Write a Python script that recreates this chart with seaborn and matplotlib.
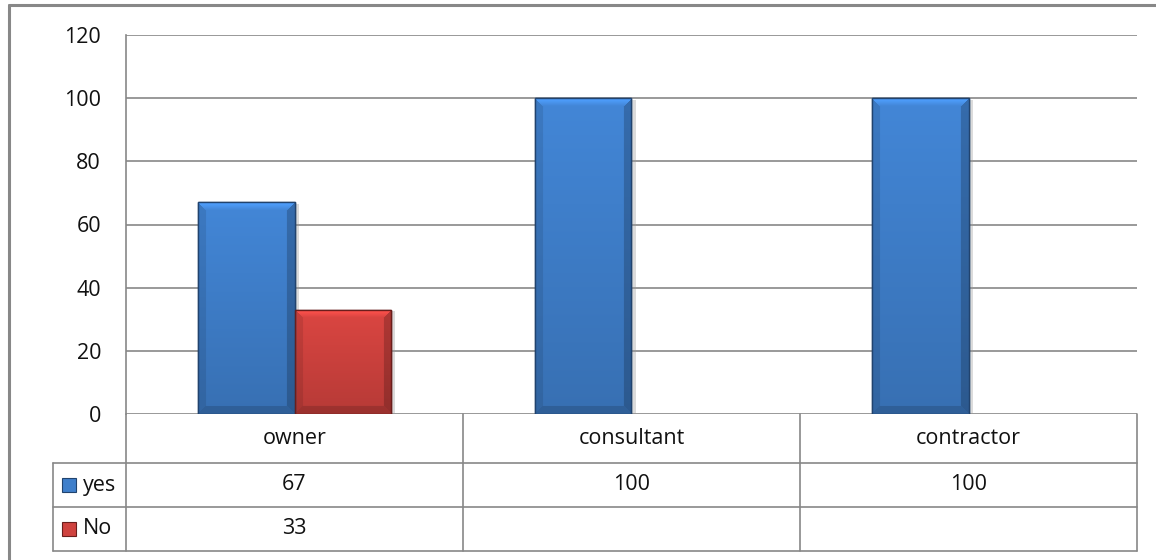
import numpy as np
import pandas as pd
import seaborn as sns
import matplotlib.pyplot as plt
import matplotlib.patheffects as pe
import matplotlib.colors as mc
from matplotlib.lines import Line2D
from matplotlib.patches import Rectangle

# datos
categories = ["owner", "consultant", "contractor"]
yes_vals = [67, 100, 100]
no_vals = [33, np.nan, np.nan]
series = ["yes", "No"]
yticks = [0, 20, 40, 60, 80, 100, 120]

blue = "#3F7FCB"
red = "#CF423E"
edge = {"yes": "#21436E", "No": "#6A1E1C"}
grid_c = "#878787"
txt_c = "#111111"
fs = 15.5

sns.set_style("white")
plt.rcParams["font.family"] = ["Open Sans", "DejaVu Sans"]

df = pd.DataFrame({
    "cat": categories * 2,
    "serie": ["yes"] * 3 + ["No"] * 3,
    "val": yes_vals + no_vals,
})

W, H = 1156, 560
fig = plt.figure(figsize=(W / 100, H / 100), dpi=100)

# ejes principales (pixeles de la referencia)
ax = fig.add_axes([126 / W, 1 - 414 / H, (1137 - 126) / W, (414 - 35) / H])
sns.barplot(data=df, x="cat", y="val", hue="serie", hue_order=series,
            palette=[blue, red], width=0.573, gap=0, ax=ax, legend=False,
            saturation=1, zorder=3)
ax.set_xlim(-0.5, 2.5)
ax.set_ylim(0, 120)
ax.set_yticks(yticks)
ax.set_xticks([])
ax.set_xlabel("")
ax.set_ylabel("")
ax.tick_params(axis="y", length=0, pad=18, labelsize=fs, labelcolor=txt_c)
ax.grid(axis="y", color=grid_c, lw=1.2, zorder=0)
for s in ["top", "right", "bottom"]:
    ax.spines[s].set_visible(False)
ax.spines["left"].set_color(grid_c)
ax.spines["left"].set_linewidth(1.2)


def bevel(ax, bar, rgb, ec):
    x0, y0 = bar.get_x(), bar.get_y()
    w, h = bar.get_width(), bar.get_height()
    p0 = ax.transData.transform((x0, y0))
    p1 = ax.transData.transform((x0 + w, y0 + h))
    nx = max(int(abs(p1[0] - p0[0])), 2)
    ny = max(int(abs(p1[1] - p0[1])), 2)
    yy, xx = np.mgrid[0:ny, 0:nx]
    f = 1.06 - 0.18 * yy / ny
    b = 8
    top = (yy < b) & (yy <= xx) & (yy <= nx - 1 - xx)
    bot = (ny - 1 - yy < b) & (ny - 1 - yy <= xx) & (ny - 1 - yy <= nx - 1 - xx)
    left = (xx < b) & ~top & ~bot & (xx <= nx - 1 - xx)
    right = (nx - 1 - xx < b) & ~top & ~bot
    f = np.where(top, 1.28 - 0.03 * yy, f)
    f = np.where(left, f * 0.9, f)
    f = np.where(right, f * 0.8, f)
    f = np.where(bot, f * 0.85, f)
    img = np.clip(np.array(rgb)[None, None, :] * f[..., None], 0, 1)
    im = ax.imshow(img, extent=(x0, x0 + w, y0, y0 + h), aspect="auto",
                   interpolation="bilinear", zorder=3.5)
    im.set_clip_path(bar)
    bar.set_edgecolor(ec)
    bar.set_linewidth(1.0)
    bar.set_path_effects([pe.SimplePatchShadow(offset=(3, -1), shadow_rgbFace="#999999", alpha=0.35),
                          pe.Normal()])


for bar in list(ax.patches):
    if np.isnan(bar.get_height()) or bar.get_height() == 0:
        continue
    fc = mc.to_hex(bar.get_facecolor())
    name = "yes" if fc.lower() == blue.lower() else "No"
    bevel(ax, bar, mc.to_rgb(blue if name == "yes" else red), edge[name])
    # contorno por encima de la imagen
    ax.add_patch(Rectangle((bar.get_x(), bar.get_y()), bar.get_width(), bar.get_height(),
                           fill=False, ec=edge[name], lw=1.0, zorder=4))
ax.set_xlim(-0.5, 2.5)
ax.set_ylim(0, 120)

# tabla de datos debajo
cat_px = (1137 - 126) / 3
x_left = -0.5 - 73 / cat_px
tax = fig.add_axes([53 / W, 1 - 551 / H, (1137 - 53) / W, (551 - 414) / H])
tax.set_xlim(x_left, 2.5)
tax.set_ylim(551, 414)
tax.axis("off")

lc = dict(color=grid_c, lw=1.2, clip_on=False)
for xb in [-0.5, 0.5, 1.5, 2.5]:
    tax.plot([xb, xb], [414, 551], **lc)
tax.plot([x_left, x_left], [463, 551], **lc)
for yb in [463, 507, 551]:
    tax.plot([x_left, 2.5], [yb, yb], **lc)

row_y = {"yes": 485, "No": 529}
vals = {"yes": yes_vals, "No": no_vals}
for i, c in enumerate(categories):
    tax.text(i, 438.5, c, ha="center", va="center", fontsize=fs, color=txt_c)
    for s in series:
        v = vals[s][i]
        if not np.isnan(v):
            tax.text(i, row_y[s], f"{v:g}", ha="center", va="center", fontsize=fs, color=txt_c)

for s, col in zip(series, [blue, red]):
    tax.add_patch(Rectangle((x_left + 9 / cat_px, row_y[s] + 7), 14 / cat_px, -14,
                            fc=col, ec=edge[s], lw=0.8, clip_on=False))
    tax.text(x_left + 30 / cat_px, row_y[s], s, ha="left", va="center", fontsize=fs, color=txt_c)

# marco exterior (solo arriba e izquierda)
fig.add_artist(Line2D([9 / W, 1], [1 - 5 / H, 1 - 5 / H], color="#888888", lw=2.2))
fig.add_artist(Line2D([9 / W, 9 / W], [0, 1 - 5 / H], color="#888888", lw=2.2))

fig.savefig("out.png", dpi=100)
